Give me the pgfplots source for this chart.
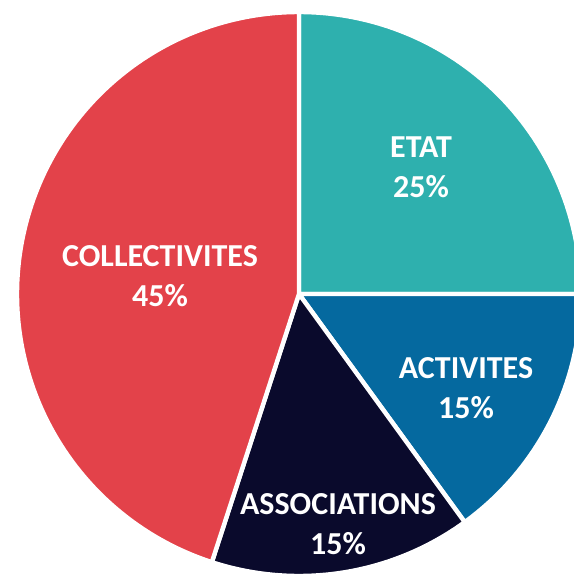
\documentclass[border=0pt]{standalone}
\usepackage{pgfplots}
\pgfplotsset{compat=1.18}
\usepackage{fontspec}
\setmainfont{Carlito}
\definecolor{cEtat}{HTML}{2EB0AE}
\definecolor{cAct}{HTML}{05699F}
\definecolor{cAsso}{HTML}{0A0A2C}
\definecolor{cColl}{HTML}{E3424A}
% shares in percent
\def\vEtat{25}\def\vAct{15}\def\vAsso{15}\def\vColl{45}
\pgfmathsetmacro\aA{90}
\pgfmathsetmacro\aB{\aA-3.6*\vEtat}
\pgfmathsetmacro\aC{\aB-3.6*\vAct}
\pgfmathsetmacro\aD{\aC-3.6*\vAsso}
\pgfmathsetmacro\aE{\aD-3.6*\vColl}
\def\cx{299}\def\cy{280}\def\R{282}
\begin{document}
\begin{tikzpicture}
\begin{axis}[
  x=0.5pt, y=0.5pt,
  xmin=0, xmax=574, ymin=0, ymax=574,
  hide axis, clip=true,
  every axis plot/.append style={draw=white, line width=2.2pt, line join=round},
]
\addplot[fill=cEtat, domain=\aB:\aA, samples=120, variable=\t]
  ({\cx+\R*cos(\t)},{\cy+\R*sin(\t)}) -- (axis cs:\cx,\cy) -- cycle;
\addplot[fill=cAct, domain=\aC:\aB, samples=80, variable=\t]
  ({\cx+\R*cos(\t)},{\cy+\R*sin(\t)}) -- (axis cs:\cx,\cy) -- cycle;
\addplot[fill=cAsso, domain=\aD:\aC, samples=80, variable=\t]
  ({\cx+\R*cos(\t)},{\cy+\R*sin(\t)}) -- (axis cs:\cx,\cy) -- cycle;
\addplot[fill=cColl, domain=\aE:\aD, samples=200, variable=\t]
  ({\cx+\R*cos(\t)},{\cy+\R*sin(\t)}) -- (axis cs:\cx,\cy) -- cycle;
\begin{scope}[every node/.style={text=white, font=\fontsize{16}{20}\selectfont\bfseries, align=center}]
\node at (axis cs:421,407) {ETAT\\\vEtat\%};
\node at (axis cs:160,298) {COLLECTIVITES\\\vColl\%};
\node at (axis cs:466,186) {ACTIVITES\\\vAct\%};
\node at (axis cs:338,50) {ASSOCIATIONS\\\vAsso\%};
\end{scope}
\end{axis}
\pgfresetboundingbox
\path (0,0) rectangle (287pt,287pt);
\end{tikzpicture}
\end{document}
